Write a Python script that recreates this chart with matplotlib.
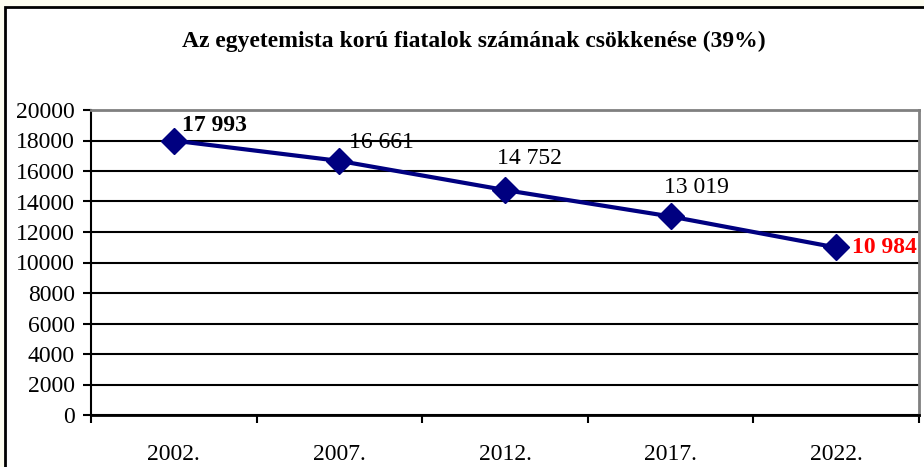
import matplotlib.pyplot as plt
from matplotlib.patches import Rectangle

years = ['2002.', '2007.', '2012.', '2017.', '2022.']
counts = [17993, 16661, 14752, 13019, 10984]
labels = ['17 993', '16 661', '14 752', '13 019', '10 984']
yticks = list(range(0, 20001, 2000))

plt.rcParams['font.family'] = ['Liberation Serif', 'DejaVu Serif']

fig = plt.figure(figsize=(9.24, 4.67), dpi=100)
fig.patch.set_facecolor('#fdfdf0')
# chart area border
fig.patches.append(Rectangle((5 / 924, -0.05), 1.0, 1 - 7 / 467 + 0.05,
                             transform=fig.transFigure, facecolor='white',
                             edgecolor='black', linewidth=2, zorder=-1))

ax = fig.add_axes([91 / 924, 1 - 415 / 467, (919 - 91) / 924, (415 - 110) / 467])
ax.set_facecolor('white')

x = list(range(len(years)))
ax.plot(x, counts, color='#000080', linewidth=3, marker='D', markersize=13,
        zorder=3)

# data labels: pixel offsets of label's left edge / vertical centre from the point
offsets = [(8, 15), (10, 18), (-8, 32), (-7, 29), (16, 0)]
for i in range(len(counts)):
    bold = i in (0, 4)
    ax.annotate(labels[i], (x[i], counts[i]), xytext=offsets[i],
                textcoords='offset pixels', fontsize=17,
                fontweight='bold' if bold else 'normal',
                color='red' if i == 4 else 'black', ha='left', va='center')

ax.set_xlim(-0.5, len(years) - 0.5)
ax.set_ylim(0, 20000)
ax.set_yticks(yticks)
ax.set_yticklabels([str(v) for v in yticks], fontsize=17)
ax.set_xticks(x)
ax.set_xticklabels(years, fontsize=17)
ax.tick_params(axis='x', length=0, pad=21)
ax.tick_params(axis='y', length=6, width=1.5, pad=5.5)
# category boundary ticks
ax.set_xticks([i - 0.5 for i in range(len(years) + 1)], minor=True)
ax.tick_params(axis='x', which='minor', length=5.5, width=1.5, direction='out')

ax.grid(axis='y', color='black', linewidth=1.5, zorder=1)
ax.set_axisbelow(True)
for side in ['top', 'right']:
    ax.spines[side].set_color('#808080')
    ax.spines[side].set_linewidth(2)
ax.spines['left'].set_linewidth(1.5)
ax.spines['bottom'].set_linewidth(2)

fig.text(474 / 924, 1 - 41 / 467, 'Az egyetemista korú fiatalok számának csökkenése (39%)',
         ha='center', va='center', fontsize=17, fontweight='bold')

fig.savefig('out.png', dpi=100)
